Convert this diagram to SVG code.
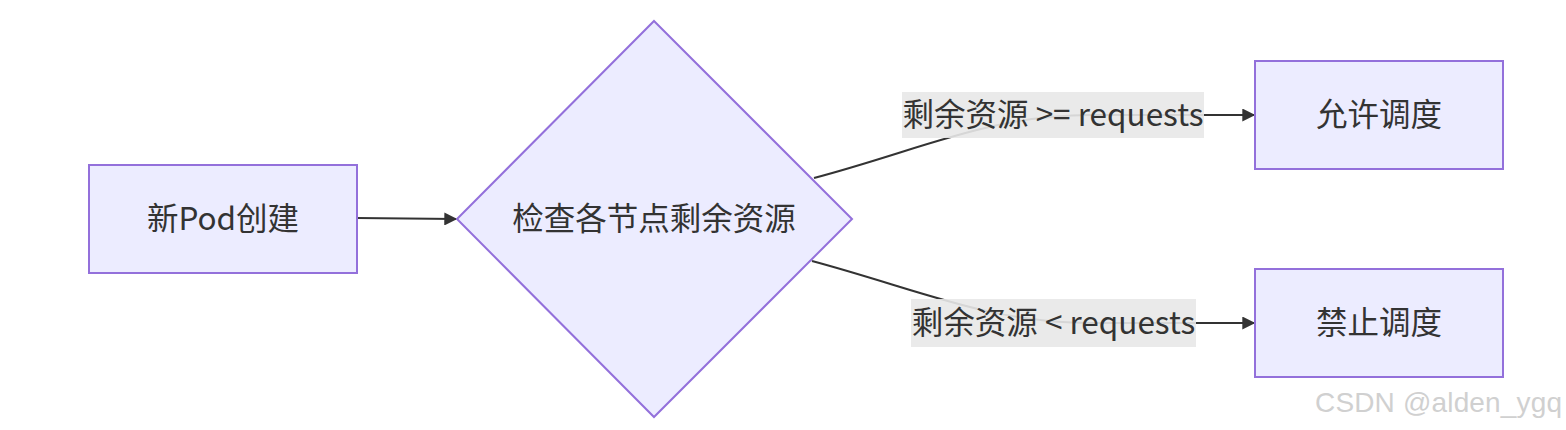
<svg xmlns="http://www.w3.org/2000/svg" width="1566" height="430" viewBox="0 0 1566 430">
<style>
.node{fill:#ECECFF;stroke:#9370DB;stroke-width:2}
.t{font-family:"Noto Sans CJK SC","Noto Sans",sans-serif;font-size:31.5px;fill:#333;text-anchor:middle;dominant-baseline:central}
.edge{fill:none;stroke:#333;stroke-width:2}
.lbg{fill:#e8e8e8;opacity:0.9}
.wm{font-family:"Liberation Sans",Arial,sans-serif;font-size:28px;fill:#d0d0d0}
</style>
<defs>
<marker id="arr" viewBox="0 0 10 10" refX="9" refY="5" markerWidth="15" markerHeight="13" markerUnits="userSpaceOnUse" orient="auto">
<path d="M0,0 L10,5 L0,10 z" fill="#333"/>
</marker>
</defs>
<rect width="1566" height="430" fill="#fff"/>
<g id="edges">
<path class="edge" d="M357,218 L456,219" marker-end="url(#arr)"/>
<path class="edge" d="M814,178 C920,150 990,115 1090,115 L1254,115" marker-end="url(#arr)"/>
<path class="edge" d="M812,261 C920,290 990,323 1090,323 L1254,323" marker-end="url(#arr)"/>
</g>
<g id="n1">
<rect class="node" x="89" y="165" width="268" height="108"/>
<text class="t" x="223" y="216">新Pod创建</text>
</g>
<g id="n2">
<polygon class="node" points="654,21 852,219 654,417 457,219"/>
<text class="t" x="654" y="216">检查各节点剩余资源</text>
</g>
<g id="n3">
<rect class="node" x="1255" y="61" width="248" height="108"/>
<text class="t" x="1379" y="112">允许调度</text>
</g>
<g id="n4">
<rect class="node" x="1255" y="269" width="248" height="108"/>
<text class="t" x="1379" y="320">禁止调度</text>
</g>
<g id="labels">
<rect class="lbg" x="902" y="92" width="302" height="46"/>
<text class="t" x="1053" y="112">剩余资源 &gt;= requests</text>
<rect class="lbg" x="911" y="299" width="285" height="48"/>
<text class="t" x="1053.5" y="320">剩余资源 &lt; requests</text>
</g>
<text class="wm" x="1315" y="412" textLength="247">CSDN @alden_ygq</text>
</svg>
